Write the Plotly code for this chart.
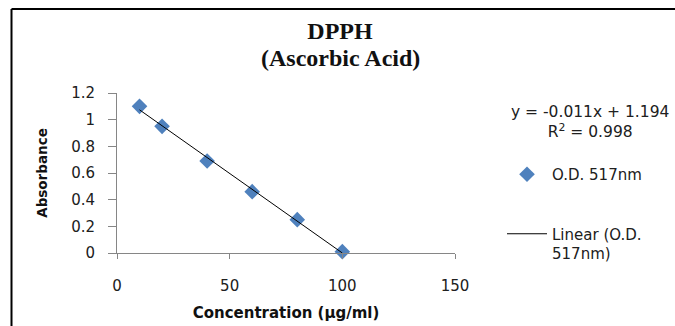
import numpy as np
import plotly.graph_objects as go

# ---- data ----
concentration = [10, 20, 40, 60, 80, 100]
od_517 = [1.10, 0.95, 0.69, 0.46, 0.25, 0.01]
series_name = "O.D. 517nm"
trend_name = "Linear (O.D.<br>517nm)"
title_text = "DPPH"
subtitle_text = "(Ascorbic Acid)"
equation_text = "y = -0.011x + 1.194"
r2_text = "R<sup>2</sup> = 0.998"
x_ticks = [0, 50, 100, 150]
y_ticks = [0, 0.2, 0.4, 0.6, 0.8, 1, 1.2]

# linear trendline fitted from the data
slope, intercept = np.polyfit(concentration, od_517, 1)
x_fit = [min(concentration), max(concentration)]
y_fit = [slope * x + intercept for x in x_fit]

W, H = 675, 326
ML, MR, MT, MB = 117, 220, 93, 73
PW, PH = W - ML - MR, H - MT - MB


def px_x(px):
    return (px - ML) / PW


def px_y(py):
    return (H - MB - py) / PH


fig = go.Figure()
fig.add_trace(go.Scatter(
    x=concentration, y=od_517, mode="markers", name=series_name,
    legendgroup="a",
    marker=dict(symbol="diamond", size=12, color="#4F81BD"),
    cliponaxis=False,
))
fig.add_trace(go.Scatter(
    x=x_fit, y=y_fit, mode="lines", name=trend_name,
    legendgroup="b",
    line=dict(color="#000000", width=1),
))

axis_font = dict(family="DejaVu Sans", size=15, color="#202020")
title_font = dict(family="Liberation Serif", size=24, color="#111111")

fig.update_layout(
    width=W, height=H,
    margin=dict(l=ML, r=MR, t=MT, b=MB, autoexpand=False),
    paper_bgcolor="white", plot_bgcolor="white",
    title=dict(
        text="<b>" + title_text + "</b>",
        font=title_font,
        x=340 / W, xref="container", xanchor="center",
        y=1 - 31 / H, yref="container", yanchor="middle",
    ),
    xaxis=dict(
        range=[0, 150], tickvals=x_ticks, showgrid=False, zeroline=False,
        showline=True, linecolor="#868686", linewidth=1,
        ticks="outside", ticklen=5, tickcolor="#868686",
        tickfont=axis_font, ticklabelstandoff=14, automargin=False,
        title=dict(text="<b>Concentration (µg/ml)</b>",
                   font=dict(family="DejaVu Sans", size=15, color="#111111"),
                   standoff=13),
    ),
    yaxis=dict(
        range=[0, 1.2], tickvals=y_ticks, showgrid=False, zeroline=False,
        showline=True, linecolor="#868686", linewidth=1,
        ticks="outside", ticklen=8, tickcolor="#868686",
        tickfont=axis_font, ticklabelstandoff=10, automargin=False,
        title=dict(text="<b>Absorbance</b>",
                   font=dict(family="DejaVu Sans", size=13.5, color="#111111"),
                   standoff=20),
    ),
    legend=dict(
        x=px_x(502), y=px_y(158), xanchor="left", yanchor="top",
        font=dict(family="DejaVu Sans", size=15, color="#202020"),
        itemwidth=40, tracegroupgap=37, valign="top",
        bgcolor="rgba(0,0,0,0)",
    ),
    showlegend=True,
    annotations=[
        dict(
            text="<b>" + subtitle_text + "</b>",
            x=(340 - ML) / PW, y=px_y(58), xref="paper", yref="paper",
            xanchor="center", yanchor="middle", showarrow=False,
            font=title_font,
        ),
        dict(
            text=equation_text + "<br>" + r2_text,
            x=px_x(590), y=px_y(121.5), xref="paper", yref="paper",
            xanchor="center", yanchor="middle", showarrow=False, align="center",
            font=dict(family="DejaVu Sans", size=15.5, color="#202020"),
        ),
    ],
    shapes=[
        dict(type="line", xref="paper", yref="paper",
             x0=px_x(11.5), x1=px_x(11.5), y0=px_y(9), y1=px_y(H + 5),
             line=dict(color="#000000", width=2)),
        dict(type="line", xref="paper", yref="paper",
             x0=px_x(11.5), x1=px_x(W + 5), y0=px_y(9), y1=px_y(9),
             line=dict(color="#000000", width=2)),
    ],
)

fig.write_html(
    "out.html",
    config={"displayModeBar": False},
    post_script="document.body.style.margin='0';document.body.style.overflow='hidden';",
)
